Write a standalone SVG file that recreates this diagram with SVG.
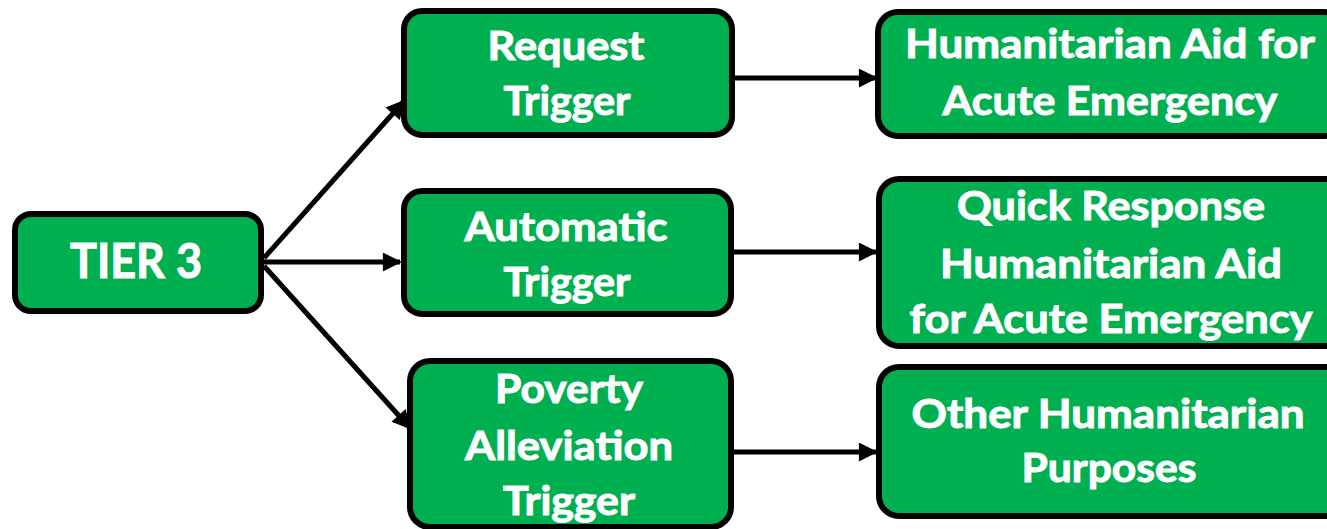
<svg xmlns="http://www.w3.org/2000/svg" width="1327" height="529" viewBox="0 0 1327 529">
  <style>
    .box { fill: #00B050; stroke: #000; stroke-width: 6; }
    .lbl { font-family: Lato, "Open Sans", "Liberation Sans", sans-serif; font-weight: bold; fill: #fff; stroke: #fff; stroke-width: 1; text-anchor: middle; }
    .t2 { font-size: 41px; }
    .t1 { font-size: 48px; }
    .edge { stroke: #000; stroke-width: 5; fill: none; marker-end: url(#arrow); }
  </style>
  <defs>
    <marker id="arrow" viewBox="0 0 10 10" refX="9" refY="5" markerWidth="22" markerHeight="19" markerUnits="userSpaceOnUse" orient="auto">
      <path d="M0,0 L10,5 L0,10 Z" fill="#000"/>
    </marker>
  </defs>
  <rect width="1327" height="529" fill="#fff"/>

  <g id="connectors">
    <line class="edge" x1="264" y1="258" x2="404" y2="101"/>
    <line class="edge" x1="264" y1="262" x2="400" y2="262"/>
    <line class="edge" x1="264" y1="266" x2="410" y2="428"/>
    <line class="edge" x1="735" y1="78" x2="876" y2="78"/>
    <line class="edge" x1="734" y1="252" x2="876" y2="252"/>
    <line class="edge" x1="734" y1="452" x2="876" y2="452"/>
  </g>

  <g id="tier3">
    <rect class="box" x="15" y="214" width="246" height="97" rx="16"/>
    <text class="lbl t1" x="136" y="278" textLength="132" lengthAdjust="spacingAndGlyphs">TIER 3</text>
  </g>

  <g id="request-trigger">
    <rect class="box" x="404" y="11" width="328" height="124" rx="18"/>
    <text class="lbl t2" x="566" y="60" textLength="157" lengthAdjust="spacingAndGlyphs">Request</text>
    <text class="lbl t2" x="567" y="115" textLength="127" lengthAdjust="spacingAndGlyphs">Trigger</text>
  </g>

  <g id="automatic-trigger">
    <rect class="box" x="404" y="191" width="327" height="123" rx="18"/>
    <text class="lbl t2" x="566" y="241" textLength="203" lengthAdjust="spacingAndGlyphs">Automatic</text>
    <text class="lbl t2" x="567" y="296" textLength="127" lengthAdjust="spacingAndGlyphs">Trigger</text>
  </g>

  <g id="poverty-trigger">
    <rect class="box" x="410" y="361" width="321" height="166" rx="20"/>
    <text class="lbl t2" x="569" y="403" textLength="148" lengthAdjust="spacingAndGlyphs">Poverty</text>
    <text class="lbl t2" x="569" y="460" textLength="208" lengthAdjust="spacingAndGlyphs">Alleviation</text>
    <text class="lbl t2" x="569" y="515" textLength="132" lengthAdjust="spacingAndGlyphs">Trigger</text>
  </g>

  <g id="acute-emergency">
    <rect class="box" x="878" y="12" width="466" height="124" rx="20"/>
    <text class="lbl t2" x="1110" y="58" textLength="410" lengthAdjust="spacingAndGlyphs">Humanitarian Aid for</text>
    <text class="lbl t2" x="1110" y="115" textLength="335" lengthAdjust="spacingAndGlyphs">Acute Emergency</text>
  </g>

  <g id="quick-response">
    <rect class="box" x="879" y="179" width="466" height="167" rx="20"/>
    <text class="lbl t2" x="1111" y="220" textLength="308" lengthAdjust="spacingAndGlyphs">Quick Response</text>
    <text class="lbl t2" x="1111" y="278" textLength="342" lengthAdjust="spacingAndGlyphs">Humanitarian Aid</text>
    <text class="lbl t2" x="1111" y="333" textLength="403" lengthAdjust="spacingAndGlyphs">for Acute Emergency</text>
  </g>

  <g id="other-purposes">
    <rect class="box" x="879" y="367" width="466" height="149" rx="20"/>
    <text class="lbl t2" x="1108" y="428" textLength="393" lengthAdjust="spacingAndGlyphs">Other Humanitarian</text>
    <text class="lbl t2" x="1109" y="482" textLength="175" lengthAdjust="spacingAndGlyphs">Purposes</text>
  </g>
</svg>
